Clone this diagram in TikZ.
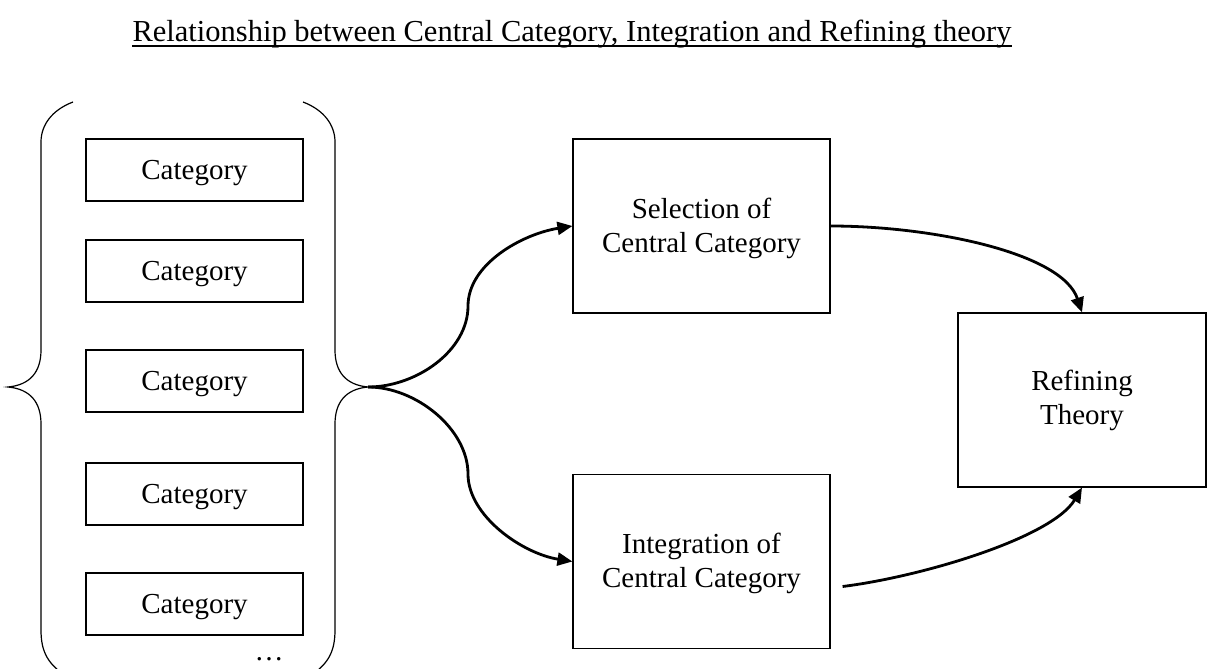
\documentclass[tikz,border=0pt]{standalone}
\usepackage{fontspec}
\setmainfont{Liberation Serif}
\usetikzlibrary{arrows.meta,calc}
\begin{document}
\begin{tikzpicture}[x=1pt,y=-1pt,
  every node/.style={inner sep=0pt, font=\fontsize{29}{34}\selectfont},
  catbox/.style={draw, line width=1.2pt, minimum width=217pt, minimum height=62pt, text depth=0pt},
  bigbox/.style={draw, line width=1.2pt, minimum height=174pt, align=center},
  brace/.style={line width=1.2pt},
  flow/.style={line width=2.8pt, -{Triangle[length=15pt,width=13pt]}}]
\useasboundingbox (0,0) rectangle (1208,669);

% heading
\node[anchor=base, font=\fontsize{30.5}{34}\selectfont] (title) at (572,42)
  {Relationship between Central Category, Integration and Refining theory};
\draw[line width=1.5pt] ($(title.base west)+(0,4)$) -- ($(title.base east)+(0,4)$);

% list of categories
\node[catbox] (c1) at (194.5,170) {Category};
\node[catbox] (c2) at (194.5,271) {Category};
\node[catbox] (c3) at (194.5,381) {Category};
\node[catbox] (c4) at (194.5,494) {Category};
\node[catbox] (c5) at (194.5,604) {Category};
\node[anchor=base] (more) at (269,660) {…};

% braces around the list
\coordinate (lbtip) at (8,387);
\coordinate (rbtip) at (368,387);
\draw[brace] (73,102) .. controls (52,110) and (41,125) .. (41,142) -- (41,350)
  .. controls (41,372) and (30,385) .. (lbtip)
  .. controls (30,389) and (41,402) .. (41,424) -- (41,630)
  .. controls (41,652) and (48,664) .. (66,676);
\draw[brace] (303,102) .. controls (324,110) and (335,125) .. (335,142) -- (335,350)
  .. controls (335,372) and (346,385) .. (rbtip)
  .. controls (346,389) and (335,402) .. (335,424) -- (335,630)
  .. controls (335,652) and (328,664) .. (310,676);

% process boxes
\node[bigbox, minimum width=257pt, text depth=2pt] (sel) at (701.5,226) {Selection of\\Central Category};
\node[bigbox, minimum width=257pt, text depth=2pt] (int) at (701.5,561.5) {Integration of\\Central Category};
\node[bigbox, minimum width=248pt] (ref) at (1082,400) {Refining\\Theory};

% connectors
\coordinate (upmid) at (468,306);
\coordinate (lowmid) at (468,474);
\coordinate (intout) at ($(int.east)+(12,25)$);
\draw[flow] (rbtip) .. controls ($(rbtip)+(48,0)$) and ($(upmid)+(0,45)$) .. (upmid)
  .. controls ($(upmid)+(0,-42)$) and ($(sel.west)+(-50,8)$) .. (sel.west);
\draw[flow] (rbtip) .. controls ($(rbtip)+(48,0)$) and ($(lowmid)+(0,-45)$) .. (lowmid)
  .. controls ($(lowmid)+(0,42)$) and ($(int.west)+(-50,-8)$) .. (int.west);
\draw[flow] (sel.east) .. controls ($(sel.east)+(100,0)$) and ($(ref.north)+(-20,-60)$) .. (ref.north);
\draw[flow] (intout) .. controls ($(intout)+(80,-10)$) and ($(ref.south)+(-30,50)$) .. (ref.south);
\end{tikzpicture}
\end{document}
